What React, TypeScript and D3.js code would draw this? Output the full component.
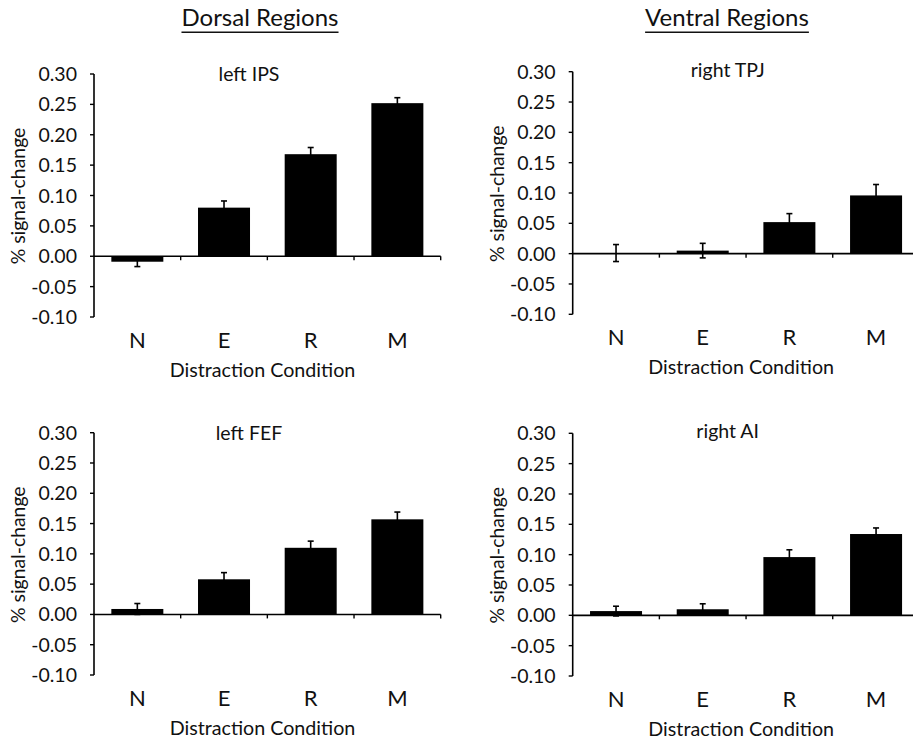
import React, { useEffect, useRef } from "react";
import * as d3 from "d3";

const categories = ["N", "E", "R", "M"];
const yTicks = [-0.1, -0.05, 0, 0.05, 0.1, 0.15, 0.2, 0.25, 0.3];

const ipsMeans = [-0.009, 0.08, 0.168, 0.252];
const ipsErr = [0.008, 0.011, 0.011, 0.009];
const tpjMeans = [0.001, 0.005, 0.052, 0.096];
const tpjErr = [0.014, 0.012, 0.014, 0.018];
const fefMeans = [0.009, 0.058, 0.11, 0.157];
const fefErr = [0.009, 0.011, 0.011, 0.012];
const aiMeans = [0.007, 0.01, 0.096, 0.134];
const aiErr = [0.008, 0.009, 0.012, 0.01];

const panelTitles = ["left IPS", "right TPJ", "left FEF", "right AI"];
const headers = ["Dorsal Regions", "Ventral Regions"];
const yLabel = "% signal-change";
const xLabel = "Distraction Condition";

const FONT = "Lato, 'Open Sans', sans-serif";

export default function App() {
  const ref = useRef<SVGSVGElement | null>(null);

  useEffect(() => {
    const svg = d3.select(ref.current);
    svg.selectAll("*").remove();

    const panels = [
      { x0: 94, yTop: 74, yBot: 317, means: ipsMeans, errs: ipsErr, title: panelTitles[0], tdy: 7 },
      { x0: 572.7, yTop: 71.7, yBot: 314.3, means: tpjMeans, errs: tpjErr, title: panelTitles[1], tdy: 5 },
      { x0: 94, yTop: 432.7, yBot: 675, means: fefMeans, errs: fefErr, title: panelTitles[2], tdy: 7.5 },
      { x0: 572.7, yTop: 433.3, yBot: 676, means: aiMeans, errs: aiErr, title: panelTitles[3], tdy: 5 },
    ];
    const plotW = 346.7;

    panels.forEach((p) => {
      const g = svg.append("g");
      const y = d3.scaleLinear().domain([-0.1, 0.3]).range([p.yBot, p.yTop]);
      const x = d3
        .scaleBand<string>()
        .domain(categories)
        .range([p.x0, p.x0 + plotW])
        .paddingInner(0.4)
        .paddingOuter(0.2);
      const step = x.step();

      g.selectAll("rect.bar")
        .data(p.means)
        .join("rect")
        .attr("x", (_d, i) => x(categories[i]) as number)
        .attr("width", x.bandwidth())
        .attr("y", (d) => Math.min(y(d), y(0)))
        .attr("height", (d) => Math.abs(y(d) - y(0)))
        .attr("fill", "#000");

      p.means.forEach((m, i) => {
        const cx = (x(categories[i]) as number) + x.bandwidth() / 2;
        const e = p.errs[i];
        const hi = y(m + e);
        const lo = y(m - e);
        g.append("line")
          .attr("x1", cx).attr("x2", cx)
          .attr("y1", hi).attr("y2", lo)
          .attr("stroke", "#000").attr("stroke-width", 1.6);
        [hi, lo].forEach((yy) =>
          g.append("line")
            .attr("x1", cx - 3).attr("x2", cx + 3)
            .attr("y1", yy).attr("y2", yy)
            .attr("stroke", "#000").attr("stroke-width", 1.6)
        );
      });

      g.append("line")
        .attr("x1", p.x0).attr("x2", p.x0)
        .attr("y1", p.yTop).attr("y2", p.yBot)
        .attr("stroke", "#000").attr("stroke-width", 1.6);
      yTicks.forEach((t) => {
        g.append("line")
          .attr("x1", p.x0 - 4).attr("x2", p.x0)
          .attr("y1", y(t)).attr("y2", y(t))
          .attr("stroke", "#000").attr("stroke-width", 1.4);
        g.append("text")
          .attr("x", p.x0 - 17)
          .attr("y", y(t))
          .attr("dy", "0.36em")
          .attr("text-anchor", "end")
          .attr("font-family", FONT)
          .attr("font-size", 19.5)
          .attr("fill", "#111")
          .text(t.toFixed(2));
      });

      g.append("line")
        .attr("x1", p.x0).attr("x2", p.x0 + plotW)
        .attr("y1", y(0)).attr("y2", y(0))
        .attr("stroke", "#000").attr("stroke-width", 1.6);
      for (let i = 1; i <= categories.length; i++) {
        const bx = p.x0 + step * i;
        g.append("line")
          .attr("x1", bx).attr("x2", bx)
          .attr("y1", y(0)).attr("y2", y(0) + 4)
          .attr("stroke", "#000").attr("stroke-width", 1.4);
      }

      categories.forEach((c) => {
        g.append("text")
          .attr("x", (x(c) as number) + x.bandwidth() / 2)
          .attr("y", p.yBot + 31)
          .attr("text-anchor", "middle")
          .attr("font-family", FONT)
          .attr("font-size", 22)
          .attr("fill", "#111")
          .text(c);
      });

      g.append("text")
        .attr("x", p.x0 + 168.5)
        .attr("y", p.yBot + 59.5)
        .attr("text-anchor", "middle")
        .attr("font-family", FONT)
        .attr("font-size", 19.7)
        .attr("fill", "#111")
        .text(xLabel);

      g.append("text")
        .attr("transform", `translate(${p.x0 - 69},${p.yTop + 122}) rotate(-90)`)
        .attr("text-anchor", "middle")
        .attr("font-family", FONT)
        .attr("font-size", 19.4)
        .attr("fill", "#111")
        .text(yLabel);

      g.append("text")
        .attr("x", p.x0 + 155)
        .attr("y", p.yTop + p.tdy)
        .attr("text-anchor", "middle")
        .attr("font-family", FONT)
        .attr("font-size", 19.5)
        .attr("fill", "#111")
        .text(p.title);
    });

    const headerCenters = [260, 727];
    headers.forEach((h, i) => {
      const t = svg.append("text")
        .attr("x", headerCenters[i])
        .attr("y", 26)
        .attr("text-anchor", "middle")
        .attr("font-family", FONT)
        .attr("font-size", 24)
        .attr("fill", "#111")
        .text(h);
      const w = (t.node() as SVGTextElement).getComputedTextLength();
      svg.append("line")
        .attr("x1", headerCenters[i] - w / 2)
        .attr("x2", headerCenters[i] + w / 2)
        .attr("y1", 32.3).attr("y2", 32.3)
        .attr("stroke", "#111").attr("stroke-width", 1.5);
    });
  }, []);

  return (
    <svg
      ref={ref}
      width={913}
      height={741}
      style={{ position: "absolute", left: 0, top: 0, background: "#fff" }}
    />
  );
}
